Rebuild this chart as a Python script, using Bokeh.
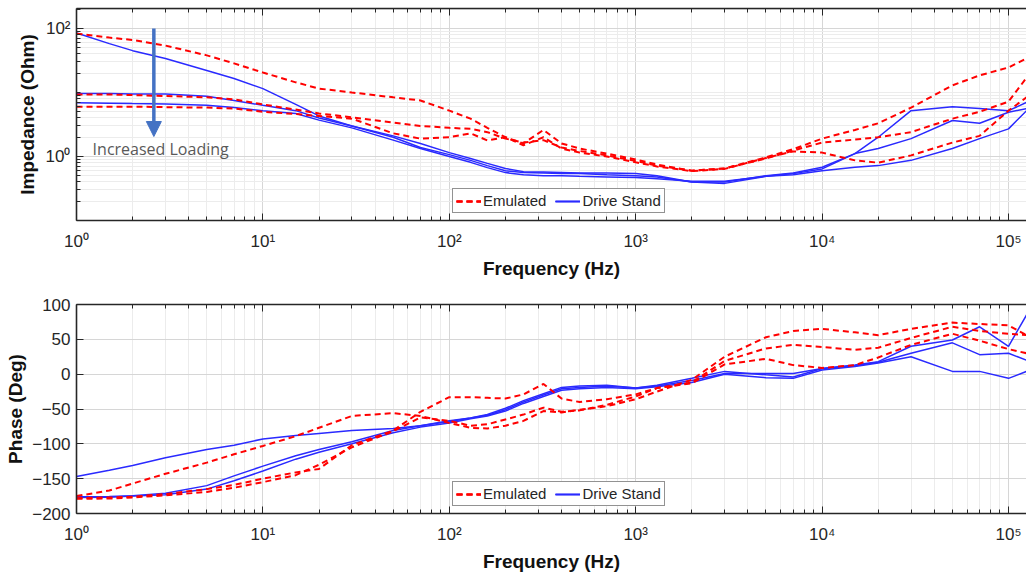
from bokeh.plotting import figure
from bokeh.layouts import column
from bokeh.models import (FixedTicker, LogAxis, Range1d, Legend, LegendItem,
                          Arrow, NormalHead, Label, CustomJSTickFormatter)
from bokeh.embed import file_html
from bokeh.resources import INLINE

# ---------------- data ----------------
freq = [1, 1.5, 2, 3, 5, 7, 10, 15, 20, 30, 50, 70, 100, 130, 160, 200, 250, 320,
        400, 500, 700, 1000, 1300, 2000, 3000, 5000, 7000, 10000, 15000, 20000,
        30000, 50000, 70000, 100000, 125000]

# impedance magnitude (Ohm)
emu_mag_1 = [83, 72, 66, 54, 38, 28.5, 20.5, 14.4, 11.5, 10, 8.4, 7.5, 5.2, 3.9, 2.8, 2.0,
             1.6, 2.6, 1.6, 1.33, 1.11, 0.9, 0.75, 0.6, 0.65, 0.97, 1.3, 1.9, 2.6, 3.3,
             5.8, 12.9, 18.5, 24.6, 34]
emu_mag_2 = [9.3, 9.3, 9.1, 8.8, 8.4, 7.8, 6.5, 5.4, 4.7, 4.1, 3.4, 3.0, 2.8, 2.7, 2.4,
             1.9, 1.65, 1.8, 1.38, 1.22, 1.04, 0.85, 0.72, 0.6, 0.65, 0.93, 1.24, 1.65,
             1.84, 2.0, 2.4, 3.9, 5.0, 7.2, 17]
emu_mag_3 = [6.0, 6.0, 6.0, 5.9, 5.8, 5.6, 5.0, 4.6, 4.3, 3.9, 2.3, 1.9, 2.0, 2.3, 1.78,
             2.0, 1.5, 2.0, 1.33, 1.15, 1.0, 0.81, 0.7, 0.59, 0.64, 0.95, 1.2, 1.15,
             0.87, 0.8, 1.04, 1.65, 2.1, 5.2, 8.4]
drv_mag_1 = [85, 58, 45, 34, 22, 16.5, 11.5, 6.5, 4.3, 3.0, 2.1, 1.6, 1.15, 0.93, 0.78,
             0.65, 0.58, 0.57, 0.56, 0.55, 0.55, 0.54, 0.5, 0.40, 0.40, 0.5, 0.55, 0.68,
             1.11, 2.0, 5.2, 6.0, 5.6, 5.2, 7.0]
drv_mag_2 = [9.6, 9.6, 9.5, 9.5, 8.7, 7.5, 6.3, 5.2, 4.0, 3.0, 2.0, 1.38, 1.07, 0.87,
             0.72, 0.6, 0.56, 0.55, 0.54, 0.54, 0.52, 0.5, 0.48, 0.40, 0.38, 0.49, 0.54,
             0.64, 1.11, 1.33, 1.9, 3.65, 3.3, 4.9, 5.6]
drv_mag_3 = [6.9, 6.8, 6.7, 6.6, 6.3, 5.8, 5.2, 4.7, 3.7, 2.8, 1.8, 1.33, 1.0, 0.81, 0.67,
             0.56, 0.52, 0.5, 0.5, 0.49, 0.48, 0.47, 0.45, 0.41, 0.41, 0.49, 0.52, 0.6,
             0.68, 0.72, 0.87, 1.33, 1.9, 2.7, 5.2]

# phase (deg)
emu_ph_1 = [-175, -167, -157, -143, -127, -115, -103, -89, -77, -60, -56, -60, -70, -77,
            -78, -74, -67, -53, -55, -51, -46, -36, -25, -8, 25, 53, 62, 65, 60, 56, 65,
            74, 72, 70, 56]
emu_ph_2 = [-178, -177, -176, -172, -165, -159, -150, -141, -136, -102, -81, -54, -33,
            -33, -34, -35, -29, -14, -35, -40, -36, -29, -20, -12, 19, 37, 42, 39, 35,
            38, 52, 68, 62, 58, 56]
emu_ph_3 = [-179, -178.5, -177, -174, -169, -163, -155, -145, -130, -105, -82, -62, -67,
            -74, -72, -65, -58, -48, -54, -52, -44, -32, -20, -13, 14, 22, 13, 9, 13, 24,
            42, 58, 48, 36, 30]
drv_ph_1 = [-147, -138, -131, -120, -108, -102, -93, -88, -85, -81, -78, -74, -67, -63,
            -58, -49, -38, -28, -19, -17, -16, -20, -16, -6, 4, -1, -4, 8, 13, 18, 40,
            49, 68, 40, 85]
drv_ph_2 = [-176, -175.5, -174.5, -171, -160, -146, -132, -117, -108, -97, -81, -74, -68,
            -63, -59, -51, -40, -30, -21, -19, -17, -20, -17, -9, 1, 1, 1, 8, 12, 17, 30,
            45, 28, 30, 20]
drv_ph_3 = [-177, -176.5, -175, -173, -165, -153, -139, -122, -112, -100, -84, -76, -70,
            -64, -60, -53, -42, -32, -23, -21, -19, -21, -18, -12, 0, -5, -6, 6, 11, 16,
            25, 4, 4, -6, 4]

x_tick_values = [1, 10, 100, 1000, 10000, 100000]
x_tick_labels = ["10\u2070", "10\u00b9", "10\u00b2", "10\u00b3", "10\u2074", "10\u2075"]
mag_tick_values = [1, 100]
mag_tick_labels = ["10\u2070", "10\u00b2"]
phase_tick_values = [-200, -150, -100, -50, 0, 50, 100]

legend_labels = ["Emulated", "Drive Stand"]
annotation_text = "Increased Loading"
x_label = "Frequency (Hz)"
mag_label = "Impedance (Ohm)"
phase_label = "Phase (Deg)"

# ---------------- styling ----------------
FONT = "Liberation Sans"
AX = "#262626"
RED = "#ff0000"
BLUE = "#2a2aff"
GRID = "#d6d6d6"
MINOR_GRID = "#ececec"

x_minor = [k * 10 ** d for d in range(0, 6) for k in range(2, 10)]
mag_minor = [k * 10 ** d for d in range(-1, 3) for k in range(1, 10)
             if not (k == 1 and d in (0, 2))]


def make_x_ticker():
    return FixedTicker(ticks=x_tick_values, minor_ticks=x_minor)


def style_fig(p, ylabel, y_ticker, y_overrides, ylabel_standoff):
    p.outline_line_color = None
    p.background_fill_color = "white"
    p.border_fill_color = "white"
    xa = p.xaxis[0]
    xa.ticker = make_x_ticker()
    xa.major_label_overrides = dict(zip(x_tick_values, x_tick_labels))
    xa.axis_label = x_label
    ya = p.yaxis[0]
    ya.ticker = y_ticker
    if y_overrides:
        ya.major_label_overrides = y_overrides
    ya.axis_label = ylabel
    for ax in (xa, ya):
        ax.axis_line_color = AX
        ax.axis_line_width = 1.6
        ax.major_tick_line_color = AX
        ax.minor_tick_line_color = AX
        ax.major_tick_in = 7
        ax.major_tick_out = 0
        ax.minor_tick_in = 4
        ax.minor_tick_out = 0
        ax.major_label_text_font = FONT
        ax.major_label_text_font_size = "17px"
        ax.major_label_text_color = AX
        ax.axis_label_text_font = FONT
        ax.axis_label_text_font_size = "19px"
        ax.axis_label_text_font_style = "bold"
        ax.axis_label_text_color = "#111111"
    xa.major_label_standoff = 11
    xa.axis_label_standoff = 4
    ya.major_label_standoff = 6
    ya.axis_label_standoff = ylabel_standoff
    # top border with inward ticks (no labels)
    top = LogAxis(ticker=make_x_ticker(),
                  formatter=CustomJSTickFormatter(code="return ''"),
                  major_label_standoff=0, axis_line_color=AX, axis_line_width=1.6,
                  major_tick_line_color=AX, minor_tick_line_color=AX,
                  major_tick_in=7, major_tick_out=0, minor_tick_in=4, minor_tick_out=0)
    p.add_layout(top, "above")
    p.xgrid.grid_line_color = GRID
    p.xgrid.minor_grid_line_color = MINOR_GRID
    p.ygrid.grid_line_color = GRID


def add_lines(p, emu, drv):
    blues = [p.line(freq, d, line_color=BLUE, line_width=1.5) for d in drv]
    reds = [p.line(freq, e, line_color=RED, line_width=2, line_dash="6 4") for e in emu]
    legend = Legend(items=[LegendItem(label=legend_labels[0], renderers=reds),
                           LegendItem(label=legend_labels[1], renderers=blues)],
                    orientation="horizontal", location=(376, 7),
                    border_line_color=AX, border_line_width=1.3,
                    background_fill_color="white", background_fill_alpha=1,
                    label_text_font=FONT, label_text_font_size="15px",
                    label_text_color=AX, glyph_width=25, glyph_height=16,
                    label_height=16, label_standoff=2, spacing=9, padding=3, margin=0)
    p.add_layout(legend)


# ---------------- top: impedance ----------------
p1 = figure(width=1026, height=285, x_axis_type="log", y_axis_type="log",
            x_range=Range1d(1, 124900), y_range=Range1d(0.1, 205),
            output_backend="svg", toolbar_location=None,
            min_border_left=76, min_border_right=0, min_border_top=8,
            min_border_bottom=65)
style_fig(p1, mag_label,
          FixedTicker(ticks=mag_tick_values, minor_ticks=mag_minor),
          dict(zip(mag_tick_values, mag_tick_labels)), 5)
p1.ygrid.minor_grid_line_color = MINOR_GRID
add_lines(p1, [emu_mag_1, emu_mag_2, emu_mag_3], [drv_mag_1, drv_mag_2, drv_mag_3])

arrow_x, arrow_y0, arrow_y1 = 2.6, 100, 2.05
p1.add_layout(Arrow(end=NormalHead(size=15, fill_color="#4472c4", line_color="#4472c4"),
                    x_start=arrow_x, y_start=arrow_y0, x_end=arrow_x, y_end=arrow_y1,
                    line_color="#4472c4", line_width=3.5))
p1.add_layout(Label(x=1.22, y=1.33, text=annotation_text, text_font="Open Sans",
                    text_font_size="16px", text_color="#595959",
                    text_baseline="middle", text_align="left"))

# ---------------- bottom: phase ----------------
p2 = figure(width=1026, height=289, x_axis_type="log",
            x_range=Range1d(1, 124900), y_range=Range1d(-200, 100),
            output_backend="svg", toolbar_location=None,
            min_border_left=76, min_border_right=0, min_border_top=19,
            min_border_bottom=59)
style_fig(p2, phase_label, FixedTicker(ticks=phase_tick_values), None, 3)
add_lines(p2, [emu_ph_1, emu_ph_2, emu_ph_3], [drv_ph_1, drv_ph_2, drv_ph_3])

layout = column(p1, p2, spacing=0)
open("out.html", "w").write(file_html(layout, INLINE))
